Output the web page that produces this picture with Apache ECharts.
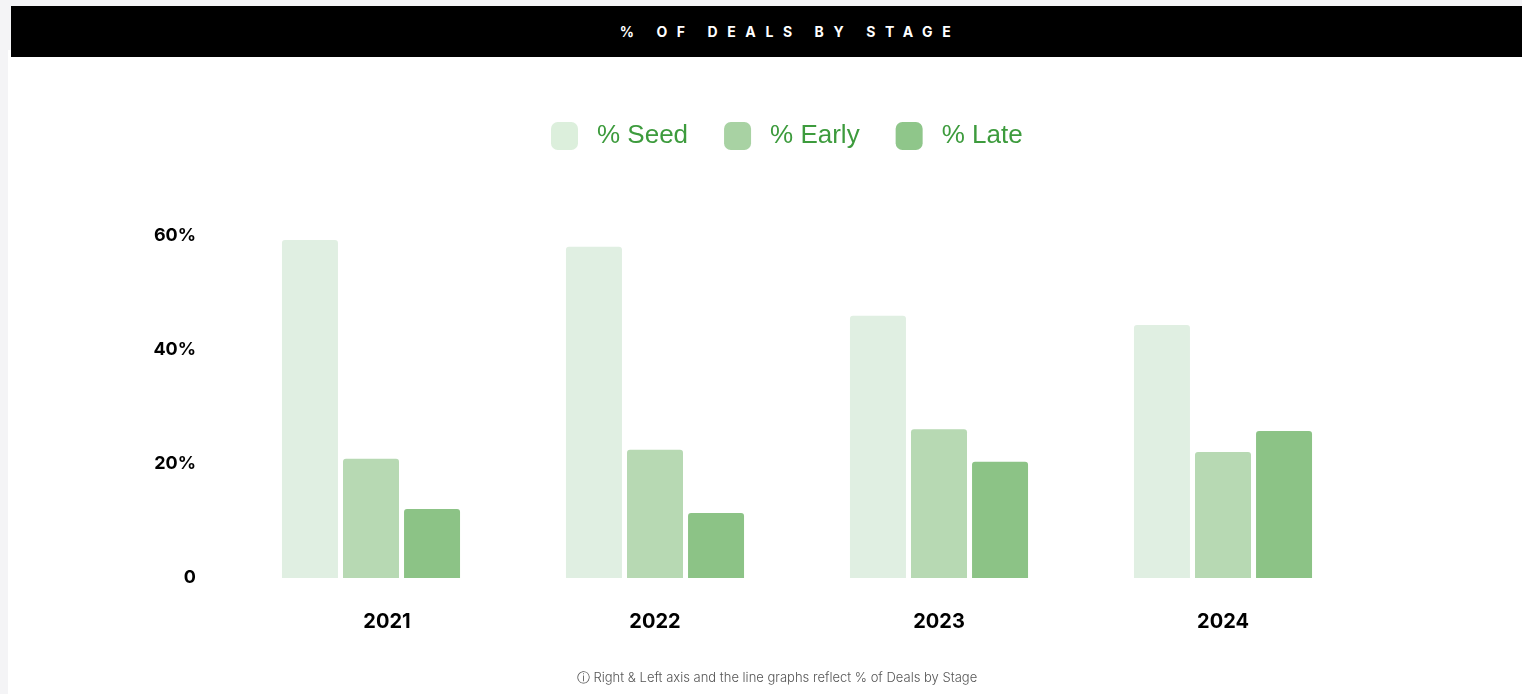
<!DOCTYPE html>
<html>
<head>
<meta charset="utf-8">
<script src="https://cdn.jsdelivr.net/npm/echarts@6/dist/echarts.min.js"></script>
<style>
  html, body { margin:0; padding:0; width:1522px; height:694px; background:#f4f4f6; overflow:hidden; }
  #panel { position:absolute; left:8px; top:50px; right:0; bottom:0; background:#ffffff; }
  #bar { position:absolute; left:11px; top:6px; right:0; height:51px; background:#000; color:#fff;
         font-family:Inter, "DejaVu Sans", sans-serif; font-weight:700; font-size:14px; letter-spacing:9.6px;
         text-align:center; line-height:51px; padding-left:47px; box-sizing:border-box; }
  #chart { position:absolute; left:0; top:0; width:1522px; height:694px; }
</style>
</head>
<body>
<div id="panel"></div>
<div id="bar">% OF DEALS BY STAGE</div>
<div id="chart"></div>
<script>
const categories = ['2021', '2022', '2023', '2024'];
const seriesNames = ['% Seed', '% Early', '% Late'];
const seedValues = [59.3, 58.1, 46.0, 44.4];
const earlyValues = [20.9, 22.5, 26.1, 22.1];
const lateValues = [12.1, 11.4, 20.4, 25.8];
const yTicks = [0, 20, 40, 60];
const barColors = ['#e0efe2', '#b7d9b3', '#8cc386'];
const legendColors = ['#dcefdc', '#a8d2a3', '#8fc68a'];

const chart = echarts.init(document.getElementById('chart'), null, { renderer: 'canvas' });
const values = [seedValues, earlyValues, lateValues];
const labelFont = { fontFamily: 'Inter', fontWeight: 700, fontSize: 20, color: '#000' };

chart.setOption({
  backgroundColor: 'transparent',
  animation: false,
  title: {
    text: 'ⓘ Right & Left axis and the line graphs reflect % of Deals by Stage',
    left: 772, top: 667, textAlign: 'center',
    textStyle: { fontFamily: 'Inter', fontWeight: 300, fontSize: 13, color: '#555' }
  },
  legend: {
    data: seriesNames.map((n, i) => ({ name: n, itemStyle: { color: legendColors[i] } })),
    top: 117, left: 546,
    icon: 'roundRect',
    itemWidth: 27, itemHeight: 28, itemGap: 36,
    textStyle: { fontFamily: 'Liberation Sans, Arial', fontSize: 26, color: '#3d9b3d', padding: [0, 0, 0, 14] }
  },
  grid: { left: 229, right: 157, top: 236, bottom: 116 },
  xAxis: {
    type: 'category', data: categories,
    axisLine: { show: false }, axisTick: { show: false },
    axisLabel: Object.assign({ margin: 34,
      formatter: (v, i) => i === 0 ? '{a|' + v + '}' : v,
      rich: { a: Object.assign({ padding: [0, 0, 0, 32] }, labelFont) }
    }, labelFont)
  },
  yAxis: {
    type: 'value', min: yTicks[0], max: yTicks[yTicks.length - 1], interval: 20,
    splitLine: { show: false }, axisLine: { show: false }, axisTick: { show: false },
    axisLabel: { margin: 33, fontFamily: 'Inter', fontWeight: 700, fontSize: 18, color: '#000',
      formatter: v => v === 0 ? '0' : v + '%' }
  },
  series: seriesNames.map((n, i) => ({
    name: n, type: 'bar', data: values[i],
    barWidth: 56, barGap: '9%',
    itemStyle: { color: barColors[i], borderRadius: [3, 3, 0, 0] }
  }))
});
</script>
</body>
</html>
